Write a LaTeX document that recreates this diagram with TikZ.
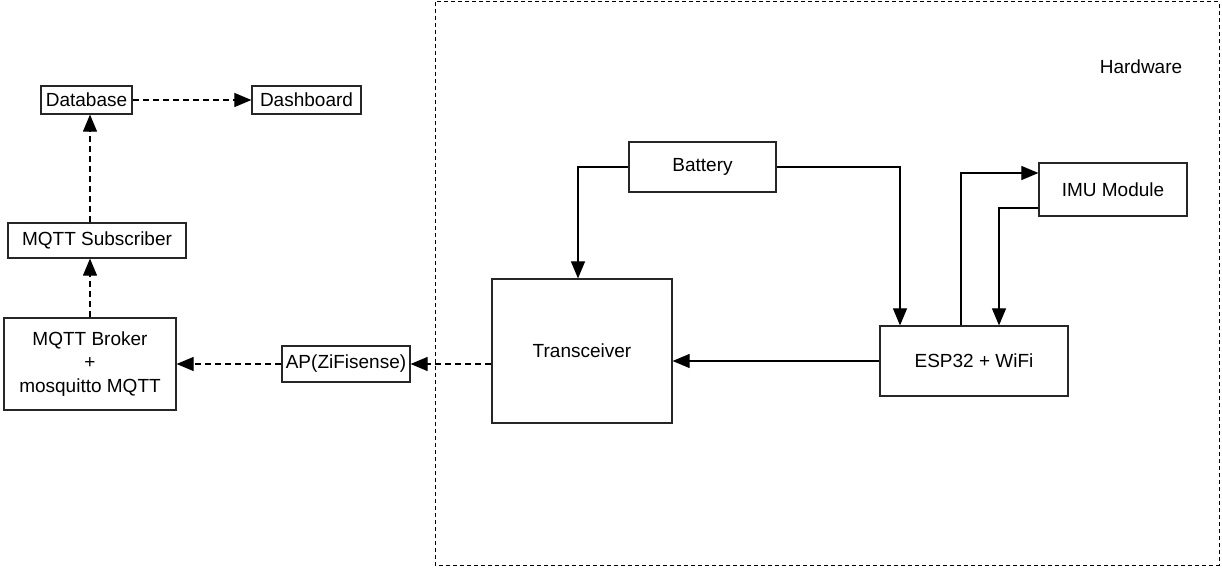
\documentclass[tikz,border=0pt]{standalone}
\usepackage{fontspec}
\setmainfont{Liberation Sans}
\usetikzlibrary{arrows.meta,positioning}

\begin{document}
\begin{tikzpicture}[x=1pt,y=-1pt,
		box/.style={rectangle,draw=black!85,line width=1.2pt,inner sep=0pt,align=center,font=\fontsize{19}{23.5}\selectfont},
		arr/.style={line width=1.1pt,-{Triangle[length=17pt,width=14pt]}},
		darr/.style={arr,dash pattern=on 6pt off 4pt}]

	\useasboundingbox (0,0) rectangle (1222,567);
	% hardware frame
	\draw[line width=1pt,dash pattern=on 4pt off 3pt] (435,2) rectangle (1219,565);
	\node[font=\fontsize{19}{23.5}\selectfont] (hwlabel) at (1141,67) {Hardware};

	\node[box,minimum width=91pt,minimum height=28pt] (db) at (86.5,100) {Database};
	\node[box,minimum width=109pt,minimum height=28pt] (dash) at (306.5,100) {Dashboard};
	\node[box,minimum width=178pt,minimum height=35pt] (sub) at (97,240.5) {MQTT Subscriber};
	\node[box,minimum width=172pt,minimum height=92pt] (broker) at (90,364) {MQTT Broker\\+\\mosquitto MQTT};
	\node[box,minimum width=128pt,minimum height=36pt] (ap) at (346,364) {AP(ZiFisense)};
	\node[box,minimum width=180pt,minimum height=144pt] (trx) at (582,351) {Transceiver};
	\node[box,minimum width=147pt,minimum height=50pt] (bat) at (702.5,167) {Battery};
	\node[box,minimum width=188pt,minimum height=70pt] (esp) at (974,361) {ESP32 + WiFi};
	\node[box,minimum width=148pt,minimum height=53pt] (imu) at (1113,189.5) {IMU Module};

	\draw[arr] (bat.west) -| ([xshift=-4pt]trx.north);
	\draw[arr] (bat.east) -| ([xshift=-74pt]esp.north);
	\draw[arr] ([xshift=-13pt]esp.north) |- ([yshift=16.5pt]imu.west);
	\draw[arr] ([yshift=-18.5pt]imu.west) -| ([xshift=25pt]esp.north);
	\draw[arr] (esp.west) -- (esp.west -| trx.east);

	\draw[darr] (trx.west |- ap) -- (ap.east);
	\draw[darr] (ap.west) -- (ap.west -| broker.east);
	\draw[darr] (broker.north) -- (broker.north |- sub.south);
	\draw[darr] (broker.north |- sub.north) -- (broker.north |- db.south);
	\draw[darr] (db.east) -- (dash.west);
\end{tikzpicture}
\end{document}
